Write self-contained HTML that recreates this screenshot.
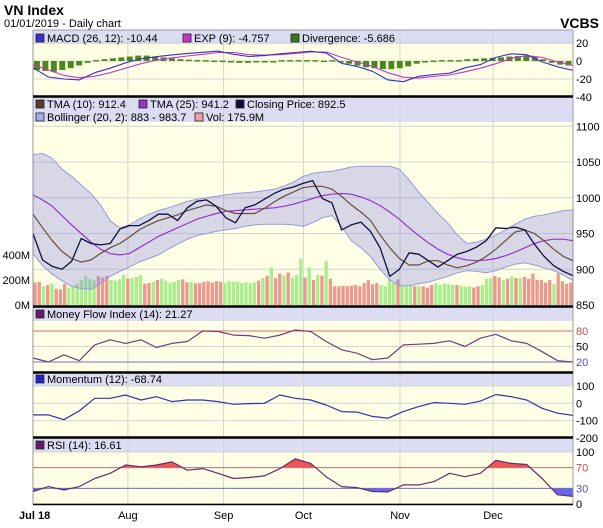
<!DOCTYPE html>
<html><head><meta charset="utf-8">
<style>
html,body{margin:0;padding:0;background:#fff;}
svg{display:block;font-family:"Liberation Sans",sans-serif;}
</style></head>
<body>
<svg id="chart" width="603" height="528" viewBox="0 0 603 528">
  <text x="4" y="15" font-size="14" font-weight="bold" fill="#000">VN Index</text>
  <text x="4" y="27" font-size="11" fill="#000">01/01/2019 - Daily chart</text>
  <text x="599" y="28" font-size="14" font-weight="bold" text-anchor="end" fill="#000">VCBS</text>
  <g id="layer"></g>
</svg>
<script>
// ===== data =====
const monthLabels = ["Jul 18","Aug","Sep","Oct","Nov","Dec"];
const monthPos = [0, 0.1757, 0.3529, 0.5007, 0.6796, 0.8519];

const closePrice = [950,913,904,900,911,943,936,934,936,956,961,961,968,977,977,968,986,995,997,988,972,965,986,990,998,1006,1012,1015,1020,1024,999,993,955,962,966,953,930,890,900,923,921,912,903,912,921,925,931,940,958,957,959,955,935,918,905,897,891];
const tma10 = [977,958,940,925,915,910,913,922,930,936,945,955,962,968,972,976,982,986,990,988,982,978,978,978,985,994,1002,1008,1014,1016,1016,1012,1002,990,980,968,948,930,915,906,906,912,912,906,902,905,910,918,928,940,952,955,950,940,928,918,912];
const tma25 = [1004,997,988,975,962,950,938,928,922,920,922,930,938,946,952,958,964,970,974,978,981,982,983,984,985,986,988,991,995,999,1003,1005,1006,1005,1001,996,989,980,970,958,947,937,928,921,916,913,912,913,915,919,924,930,936,940,942,942,940];
const bollUpper = [1060,1062,1055,1040,1030,1018,1006,990,968,958,962,970,977,982,986,990,995,998,1000,1002,1004,1006,1007,1008,1010,1012,1016,1022,1030,1034,1036,1037,1040,1043,1044,1044,1044,1044,1040,1025,1008,993,978,965,948,936,938,942,948,955,963,970,974,976,979,982,983];
const bollLower = [922,905,893,884,876,873,872,880,890,897,903,910,915,920,928,935,942,947,950,953,955,957,960,962,963,963,963,962,960,965,972,975,960,940,930,918,900,885,877,877,880,882,886,890,895,898,897,895,898,903,907,909,906,902,898,892,884];
const volume = [180,185,150,160,170,130,125,170,140,150,170,200,230,210,200,230,220,235,200,195,205,240,210,215,225,240,170,175,185,200,210,195,175,185,200,205,180,185,175,175,185,190,180,190,185,175,190,185,185,175,180,175,180,195,215,235,300,215,250,235,260,220,240,370,220,300,200,240,235,350,210,150,150,155,150,155,160,150,175,200,165,175,160,150,205,175,205,150,150,155,150,155,150,140,160,175,160,170,165,160,160,155,145,150,140,150,160,210,215,230,220,200,210,230,215,215,225,210,250,200,200,180,200,170,250,190,170,180];
const volumeDir = "rrgrgrrrgggggggrrrggggrgggrrgrgggggrrgrrrrrrrggggggggrgrgrrgrgggrgrgrgrrrrrrrrrrrrggggrgggrgrrrgggggrgggrrgggrrgrgrgrrrrrrrgrr";
const macd = [-7.5,-17.8,-20,-21,-13,-8,-2,2.5,4.8,6.8,8.5,9.7,11,7.5,5,6,8,9.5,10.8,9,-2.5,-6,-11.5,-21,-23,-17,-15,-13.5,-7.5,-4,4,8,7,-1,-6.5,-10.4];
const macdExp = [-4,-10,-16,-18.5,-17,-13,-8,-3,1,3.5,5.5,7.5,9.5,9.5,7,6.5,7,8.5,10,10,4,-1,-6,-13,-18,-19,-17,-15.5,-12,-8,-3,3,6,4,-1,-4.8];
const divergence = [-10,-11,-12,-10,-8,-5,-2,1,2,3,4,5,6,6,5,4,3,2,1.5,1,1,0.5,0.5,-1,-2,-2,-1.5,-1,0,1,1,1,1,1,0.5,1,-1,-3,-5,-7,-8,-9,-9,-8,-6,-3,-1,0.5,1,1,1,2,2.5,3,3.5,4,5,5.5,6,5,2,-2,-4,-5];
const mfi = [27.7,20,34,22.5,53,63,56,63,48,56,59.6,80,79,72,71,66,72,82,79,59.6,43.6,37,24.5,27.7,53,54.5,56,61,50,66,73.6,61,56,40,22.5,20];
const momentum = [-67,-67,-95,-44,29,29,48,19,38,10,19,19,10,-6,-2,0,48,29,19,-10,-48,-51,-76,-86,-48,-19,4,0,-6,13,51,38,19,-29,-57,-70];
const rsi = [24,33.5,27,33.5,49,59,75,71.5,75,81,65,68,59,49,51,54,68,87,78,52.5,33.5,31.6,24,23,36.7,36.7,43,59,52.5,59,84,78,76,49,17.7,14.6];

const priceTicks = [850,900,950,1000,1050,1100];
const volTicks = [0,200,400];
const macdTicks = [-40,-20,0,20];
const mfiTicks = [20,50,80];
const momTicks = [-200,-100,0,100];
const rsiTicks = [0,30,70,100];

// ===== layout =====
const NS = "http://www.w3.org/2000/svg";
const layer = document.getElementById('layer');
const X0 = 33, X1 = 573, W = X1 - X0;
function mk(tag, attrs, parent) {
  const e = document.createElementNS(NS, tag);
  for (const k in attrs) e.setAttribute(k, attrs[k]);
  (parent || layer).appendChild(e);
  return e;
}
function xs(i, n) { return X0 + i * W / (n - 1); }
function lin(v0, y0, v1, y1) { return v => y0 + (v - v0) * (y1 - y0) / (v1 - v0); }
const yPrice = lin(850, 305, 1050, 162);
const yVol = lin(0, 305, 200, 280);
const yMacd = lin(0, 61, 20, 43);
const yMfi = lin(20, 362, 80, 331);
const yMom = lin(0, 403.3, 100, 386);
const yRsi = lin(0, 504, 100, 452);

const panels = [
  {name:'macd', top:30, head:44, bot:96, ticks:macdTicks, f:yMacd},
  {name:'price', top:97, head:122, bot:306, ticks:priceTicks, f:yPrice},
  {name:'mfi', top:307, head:321, bot:372, ticks:mfiTicks, f:yMfi},
  {name:'momentum', top:373, head:386, bot:437, ticks:momTicks, f:yMom},
  {name:'rsi', top:438, head:452, bot:504, ticks:rsiTicks, f:yRsi}
];

panels.forEach(p => {
  let r = mk('rect', {x:X0, y:p.top, width:W, height:p.bot-p.top, fill:'#ffffe6'});
  
  
  let h = mk('rect', {x:X0, y:p.top, width:W, height:p.head-p.top, fill:'#dcdcf2'});
  
  
  p.ticks.forEach(t => {
    const y = p.f(t);
    if (y > p.top + 2 && y < p.bot - 1) {
      let g = mk('line', {x1:X0, x2:X1, y1:y, y2:y, stroke:'#d4d4d4', 'stroke-width':1});
      
      
    }
    let col = '#000';
    if (p.name === 'mfi' || p.name === 'rsi') { col = (t === 80 || t === 70) ? '#c05050' : (t === 20 || t === 30) ? '#5050c0' : '#000'; }
    let tx = mk('text', {x:576, y:p.f(t)+4, 'font-size':11, fill:col});
    tx.textContent = String(t);
    
    
  });
  monthPos.forEach(mp => {
    const x = X0 + mp * W;
    let v = mk('line', {x1:x, x2:x, y1:p.top, y2:p.bot, stroke:'#d4d4d4', 'stroke-width':1});
    
    
  });
});

// volume
const bw = W / volume.length;
volume.forEach((v, i) => {
  const y = yVol(v);
  const b = mk('rect', {x:X0 + i*bw + 0.4, y:y, width:bw-0.9, height:305-y, fill: volumeDir[i]==='g' ? '#a8ef8c' : '#eb9890'});
  
  
});
volTicks.forEach(t => {
  const tx = mk('text', {x:30, y:yVol(t)+4, 'font-size':11, 'text-anchor':'end', fill:'#000'});
  tx.textContent = t + 'M';
  
  
});

// bollinger band
function pts(arr, f) { return arr.map((v, i) => xs(i, arr.length).toFixed(1) + ',' + f(v).toFixed(1)); }
const up = pts(bollUpper, yPrice), lo = pts(bollLower, yPrice).reverse();
const band = mk('polygon', {points: up.concat(lo).join(' '), fill:'rgba(140,140,230,0.35)', stroke:'#9999dd', 'stroke-width':1});



function line(arr, f, color, name, w) {
  const l = mk('polyline', {points: pts(arr, f).join(' '), fill:'none', stroke:color, 'stroke-width':w||1.2, 'stroke-linejoin':'round'});
  
  
  return l;
}
line(tma25, yPrice, '#9933cc', 'tma25-line');
line(tma10, yPrice, '#6b4a3a', 'tma10-line');
line(closePrice, yPrice, '#101040', 'closing-price-line', 1.3);

// macd
const dw = W / divergence.length;
divergence.forEach((v, i) => {
  const y0 = yMacd(0), y = yMacd(v);
  const b = mk('rect', {x:X0 + i*dw + 1, y:Math.min(y0, y), width:dw-2.5, height:Math.max(1.5, Math.abs(y - y0)), fill:'#4a8a1a'});
  
  
});
line(macdExp, yMacd, '#cc33cc', 'exp-line', 1.1);
line(macd, yMacd, '#3333bb', 'macd-line', 1.1);

// mfi
[[80,'#d07070'],[20,'#7070d0']].forEach(([v,c]) => {
  const l = mk('line', {x1:X0, x2:X1, y1:yMfi(v), y2:yMfi(v), stroke:c, 'stroke-width':1});
  
  
});
line(mfi, yMfi, '#7a3a7a', 'mfi-line', 1.2);

// momentum
line(momentum, yMom, '#3333aa', 'momentum-line', 1.2);

// rsi with fills
const defs = mk('defs', {});
const c1 = mk('clipPath', {id:'rsiHi'}, defs);
mk('rect', {x:X0, y:452, width:W, height:yRsi(70)-452}, c1);
const c2 = mk('clipPath', {id:'rsiLo'}, defs);
mk('rect', {x:X0, y:yRsi(30), width:W, height:504-yRsi(30)}, c2);
const rp = pts(rsi, yRsi);
const hi = mk('polygon', {points: [X0+','+yRsi(70)].concat(rp, [X1+','+yRsi(70)]).join(' '), fill:'#ee5555', 'clip-path':'url(#rsiHi)'});


const lw = mk('polygon', {points: [X0+','+yRsi(30)].concat(rp, [X1+','+yRsi(30)]).join(' '), fill:'#6666ee', 'clip-path':'url(#rsiLo)'});


[[70,'#d07070'],[30,'#7070d0']].forEach(([v,c]) => {
  const l = mk('line', {x1:X0, x2:X1, y1:yRsi(v), y2:yRsi(v), stroke:c, 'stroke-width':1});
  
  
});
line(rsi, yRsi, '#6a2a6a', 'rsi-line', 1.2);

// borders & separators
panels.forEach(p => {
  const r = mk('rect', {x:X0, y:p.top, width:W, height:p.bot-p.top, fill:'none', stroke:'#888', 'stroke-width':0.8});
  
  
});
[96.5, 306.5, 372.5, 437.5].forEach(y => {
  const s = mk('line', {x1:X0, x2:X1, y1:y, y2:y, stroke:'#000', 'stroke-width':2.5});
  
  
});
const ax = mk('line', {x1:X0, x2:X1, y1:504.5, y2:504.5, stroke:'#000', 'stroke-width':1.5});



monthLabels.forEach((m, i) => {
  const x = X0 + monthPos[i] * W;
  const t = mk('text', {x: i===0 ? x-14 : x, y:519, 'font-size':11, 'text-anchor': i===0 ? 'start' : 'middle', 'font-weight': i===0 ? 'bold' : 'normal', fill:'#000'});
  t.textContent = m;
  
  
});

// legends
function legend(x, y, color, text, name) {
  const r = mk('rect', {x:x, y:y-8, width:8, height:8, fill:color, stroke:'#222', 'stroke-width':0.8});
  
  
  const t = mk('text', {x:x+11, y:y, 'font-size':11, fill:'#000'});
  t.textContent = text;
  
  
}
legend(36, 42, '#3333cc', 'MACD (26, 12): -10.44', 'legend-macd');
legend(183, 42, '#cc33cc', 'EXP (9): -4.757', 'legend-exp');
legend(291, 42, '#3a7a1a', 'Divergence: -5.686', 'legend-divergence');
legend(36, 108, '#5a3a2a', 'TMA (10): 912.4', 'legend-tma10');
legend(139, 108, '#9933cc', 'TMA (25): 941.2', 'legend-tma25');
legend(236, 108, '#101040', 'Closing Price: 892.5', 'legend-closing-price');
legend(36, 121, '#aaaaee', 'Bollinger (20, 2): 883 - 983.7', 'legend-bollinger');
legend(195, 121, '#eea0a0', 'Vol: 175.9M', 'legend-volume');
legend(36, 318, '#6a1a6a', 'Money Flow Index (14): 21.27', 'legend-mfi');
legend(36, 383, '#2222cc', 'Momentum (12): -68.74', 'legend-momentum');
legend(36, 449, '#6a1a6a', 'RSI (14): 16.61', 'legend-rsi');
</script>
</body></html>
